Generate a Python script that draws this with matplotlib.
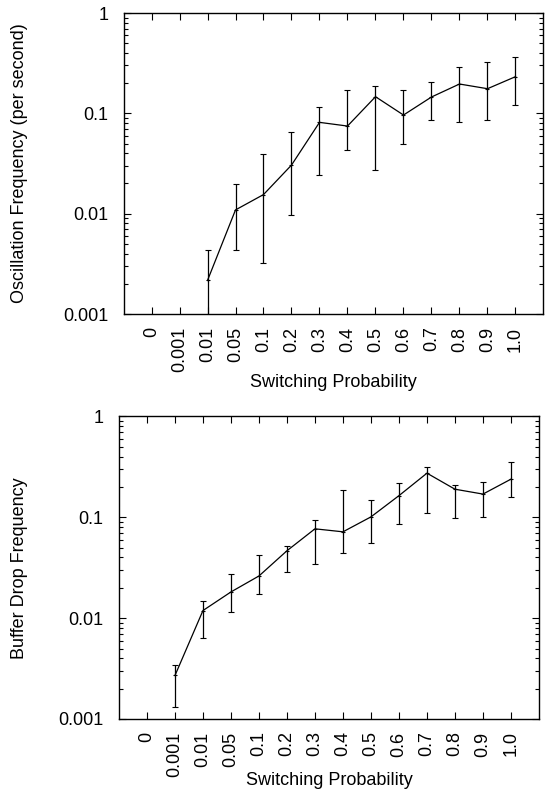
import matplotlib
matplotlib.use("Agg")
import matplotlib.pyplot as plt
import numpy as np
from matplotlib.ticker import LogLocator, NullFormatter, FixedLocator

plt.rcParams['font.family'] = ['Liberation Sans', 'DejaVu Sans']

probs = ["0", "0.001", "0.01", "0.05", "0.1", "0.2", "0.3", "0.4",
         "0.5", "0.6", "0.7", "0.8", "0.9", "1.0"]

# oscillation frequency (per second), starts at p=0.01
osc_idx = list(range(2, 14))
osc_mean = [0.00216, 0.0109, 0.0155, 0.0305, 0.0813, 0.0747, 0.1465,
            0.0962, 0.1455, 0.196, 0.176, 0.232]
osc_lo = [0.0005, 0.0043, 0.0032, 0.0098, 0.0241, 0.0428, 0.0272,
          0.049, 0.085, 0.082, 0.085, 0.120]
osc_hi = [0.0043, 0.0196, 0.039, 0.0656, 0.1156, 0.172, 0.186,
          0.169, 0.205, 0.29, 0.327, 0.367]

# buffer drop frequency, starts at p=0.001
drop_idx = list(range(1, 14))
drop_mean = [0.0027, 0.0119, 0.0182, 0.0262, 0.0466, 0.0769, 0.0718,
             0.101, 0.164, 0.274, 0.19, 0.17, 0.239]
drop_lo = [0.00132, 0.0063, 0.0115, 0.0172, 0.0286, 0.0341, 0.0442,
           0.0555, 0.0862, 0.110, 0.099, 0.101, 0.158]
drop_hi = [0.0034, 0.0148, 0.0272, 0.0425, 0.0514, 0.093, 0.186,
           0.147, 0.218, 0.318, 0.211, 0.223, 0.355]

FS = 13

fig = plt.figure(figsize=(5.46, 7.98), dpi=100, facecolor='white')
ax1 = fig.add_axes([0.2262, 0.6065, 0.7692, 0.3772])
ax2 = fig.add_axes([0.2179, 0.0990, 0.7692, 0.3791])


def draw(ax, idx, mean, lo, hi, ylabel, ylab_x, xlab_y):
    mean = np.array(mean)
    err = [mean - np.array(lo), np.array(hi) - mean]
    ax.errorbar(idx, mean, yerr=err, color='black', lw=0.9, elinewidth=0.9,
                capsize=2.2, capthick=0.9, marker='+', ms=3, mew=0.8)
    ax.set_yscale('log')
    ax.set_ylim(0.001, 1)
    ax.set_xlim(-1, 14)
    ax.xaxis.set_major_locator(FixedLocator(range(len(probs))))
    ax.set_xticklabels(probs, rotation=90, fontsize=FS)
    ax.yaxis.set_minor_locator(LogLocator(base=10, subs=np.arange(2, 10)))
    ax.yaxis.set_minor_formatter(NullFormatter())
    ax.set_yticks([0.001, 0.01, 0.1, 1])
    ax.set_yticklabels(["0.001", "0.01", "0.1", "1"], fontsize=FS)
    ax.tick_params(which='major', direction='in', length=5, width=0.8,
                   top=True, right=True)
    ax.tick_params(axis='y', which='major', pad=11)
    ax.tick_params(axis='x', which='major', pad=9)
    ax.tick_params(which='minor', direction='in', length=3, width=0.8,
                   top=True, right=True)
    ax.tick_params(axis='x', which='minor', bottom=False, top=False)
    for s in ax.spines.values():
        s.set_linewidth(1.0)
    ax.set_ylabel(ylabel, fontsize=FS)
    ax.yaxis.set_label_coords(ylab_x, 0.5)
    ax.set_xlabel("Switching Probability", fontsize=FS)
    ax.xaxis.set_label_coords(0.5, xlab_y)


draw(ax1, osc_idx, osc_mean, osc_lo, osc_hi,
     "Oscillation Frequency (per second)", -0.227, -0.199)
draw(ax2, drop_idx, drop_mean, drop_lo, drop_hi,
     "Buffer Drop Frequency", -0.216, -0.175)

fig.savefig("out.png", dpi=100)
